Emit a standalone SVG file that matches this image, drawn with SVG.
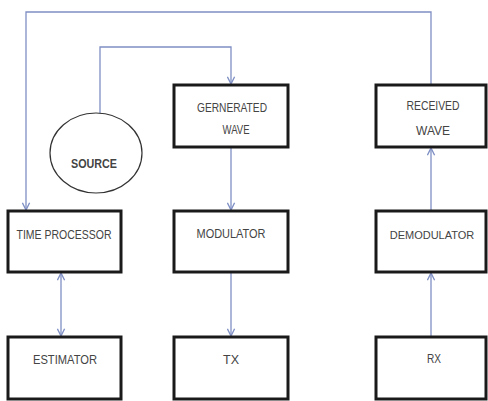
<svg xmlns="http://www.w3.org/2000/svg" width="488" height="401" viewBox="0 0 488 401">
<style>
.box{fill:#fff;stroke:#1a1a1a;stroke-width:3}
.lbl{font-family:"Liberation Sans",Arial,sans-serif;font-size:13px;fill:#444;text-anchor:middle}
.conn{fill:none;stroke:#7f8fc4;stroke-width:1.3}
</style>
<defs>
<marker id="ah" viewBox="0 0 10 10" refX="9" refY="5" markerWidth="9" markerHeight="9" orient="auto-start-reverse" markerUnits="userSpaceOnUse">
<path d="M1,1 L9,5 L1,9" fill="none" stroke="#7f8fc4" stroke-width="1.5"/>
</marker>
</defs>
<rect width="488" height="401" fill="#fff"/>
<g id="connectors">
<path class="conn" d="M431,85 V12 H26 V210" marker-end="url(#ah)"/>
<path class="conn" d="M100,113 V47 H231 V84" marker-end="url(#ah)"/>
<path class="conn" d="M231,147 V210" marker-end="url(#ah)"/>
<path class="conn" d="M231,272 V336" marker-end="url(#ah)"/>
<path class="conn" d="M61,273 V336" marker-start="url(#ah)" marker-end="url(#ah)"/>
<path class="conn" d="M431,337 V273" marker-end="url(#ah)"/>
<path class="conn" d="M431,211 V148" marker-end="url(#ah)"/>
</g>
<g id="source">
<ellipse cx="96" cy="153" rx="46" ry="40" fill="#fff" stroke="#333" stroke-width="1.2"/>
<text class="lbl" x="94" y="168" font-weight="bold" fill="#222" textLength="46" lengthAdjust="spacingAndGlyphs">SOURCE</text>
</g>
<g id="generated-wave">
<rect class="box" x="174" y="85" width="114" height="62"/>
<text class="lbl" x="232" y="112" textLength="70" lengthAdjust="spacingAndGlyphs">GERNERATED</text>
<text class="lbl" x="236" y="134" textLength="27" lengthAdjust="spacingAndGlyphs">WAVE</text>
</g>
<g id="received-wave">
<rect class="box" x="376" y="85" width="110" height="62"/>
<text class="lbl" x="433" y="110" textLength="53" lengthAdjust="spacingAndGlyphs">RECEIVED</text>
<text class="lbl" x="433" y="135" textLength="34" lengthAdjust="spacingAndGlyphs">WAVE</text>
</g>
<g id="time-processor">
<rect class="box" x="8" y="211" width="113" height="61"/>
<text class="lbl" x="64" y="239" textLength="95" lengthAdjust="spacingAndGlyphs">TIME PROCESSOR</text>
</g>
<g id="modulator">
<rect class="box" x="174" y="211" width="114" height="61"/>
<text class="lbl" x="231" y="238" textLength="69" lengthAdjust="spacingAndGlyphs">MODULATOR</text>
</g>
<g id="demodulator">
<rect class="box" x="376" y="211" width="110" height="61"/>
<text class="lbl" x="432" y="239" style="font-size:11px">DEMODULATOR</text>
</g>
<g id="estimator">
<rect class="box" x="8" y="337" width="113" height="62"/>
<text class="lbl" x="65" y="364" textLength="64" lengthAdjust="spacingAndGlyphs">ESTIMATOR</text>
</g>
<g id="tx">
<rect class="box" x="174" y="337" width="114" height="62"/>
<text class="lbl" x="231" y="364" textLength="16" lengthAdjust="spacingAndGlyphs">TX</text>
</g>
<g id="rx">
<rect class="box" x="376" y="337" width="110" height="62"/>
<text class="lbl" x="434" y="363" textLength="14" lengthAdjust="spacingAndGlyphs">RX</text>
</g>
</svg>
